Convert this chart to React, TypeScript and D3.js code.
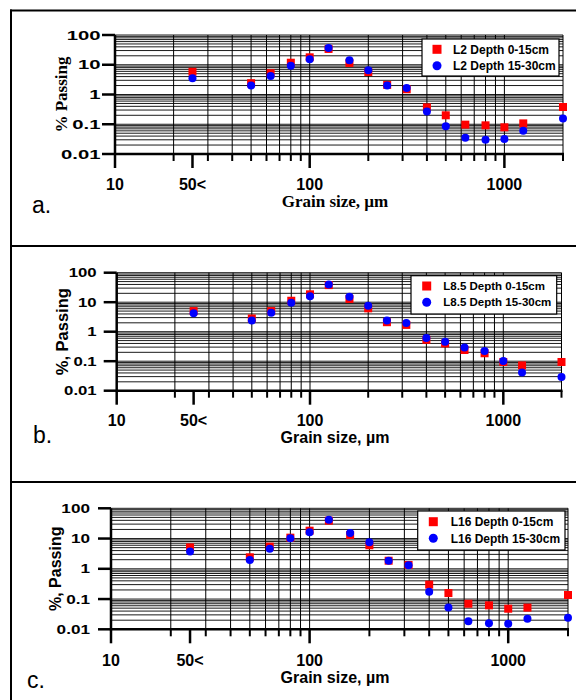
import React from "react";
import * as d3 from "d3";

// Grain sizes (µm); first class is the "<50" fraction plotted at 25
const sizes = [25, 50, 63, 80, 100, 125, 160, 200, 250, 315, 400, 500, 630, 800, 1000, 1250, 2000];

const L2_0_15 = [5.8, 2.4, 5.2, 11.7, 17.8, 34, 11.5, 5.7, 2.1, 1.5, 0.37, 0.2, 0.097, 0.092, 0.079, 0.107, 0.38];
const L2_15_30 = [3.5, 2.0, 4.2, 9.3, 15.2, 36.6, 14.1, 6.5, 2.0, 1.66, 0.27, 0.085, 0.035, 0.03, 0.032, 0.061, 0.155];

const L85_0_15 = [5.0, 2.8, 5.0, 11.2, 18.5, 38, 12.9, 6.2, 2.1, 1.7, 0.53, 0.4, 0.24, 0.186, 0.094, 0.072, 0.094];
const L85_15_30 = [4.2, 2.4, 4.4, 9.6, 15.8, 40, 15.3, 7.6, 2.4, 1.97, 0.61, 0.46, 0.29, 0.22, 0.102, 0.041, 0.029];

const L16_0_15 = [5.1, 2.4, 5.4, 10.7, 18.2, 39, 13.1, 6.0, 1.85, 1.34, 0.3, 0.158, 0.07, 0.062, 0.048, 0.052, 0.136];
const L16_15_30 = [3.7, 1.95, 4.6, 10.2, 16.1, 42, 15.3, 7.5, 1.85, 1.3, 0.175, 0.053, 0.0186, 0.0158, 0.0153, 0.0224, 0.024];

const seriesNames = [
  ["L2 Depth 0-15cm", "L2 Depth 15-30cm"],
  ["L8.5 Depth 0-15cm", "L8.5 Depth 15-30cm"],
  ["L16 Depth 0-15cm", "L16 Depth 15-30cm"],
];

const xMajorTicks = [10, 25, 100, 1000];
const xMajorLabels = ["10", "50<", "100", "1000"];
const xMinorTicks = [20, 30, 40, 50, 60, 70, 80, 90, 200, 300, 400, 500, 600, 700, 800, 900, 2000];
const xGrid = [20, 30, 40, 50, 60, 70, 80, 90, 100, 200, 300, 400, 500, 600, 700, 800, 900, 1000, 2000];
const yTicks = [100, 10, 1, 0.1, 0.01];
const yTickLabels = ["100", "10", "1", "0.1", "0.01"];
const yGrid: number[] = [];
[0.01, 0.1, 1, 10].forEach((d) => {
  for (let m = 1; m <= 9; m++) yGrid.push(+(d * m).toPrecision(3));
});
yGrid.push(100);

const SANS = "'Liberation Sans', Arial, sans-serif";
const SERIF = "'Liberation Serif', 'Times New Roman', serif";

const panels = [
  {
    data: [L2_0_15, L2_15_30], names: seriesNames[0],
    top: 35, bottom: 154, left: 115, right: 563,
    yLabEnd: 100.5, yFont: 13, yStretch: 1.56,
    yTitle: "% Passing", yTitleFont: SERIF, yTitleSize: 17, yTitleX: 67,
    xTitleFont: SERIF, xTitleSize: 17, xTitleY: 207, xTickY: 190,
    label: "a.", labelX: 32, labelY: 213,
    lg: { x: 422, y: 39, w: 137, h: 37, mx: 437, r1: 49.3, r2: 65.7, tx: 453, font: 12 },
  },
  {
    data: [L85_0_15, L85_15_30], names: seriesNames[1],
    top: 272.7, bottom: 390.7, left: 116.7, right: 561.5,
    yLabEnd: 96.7, yFont: 12, yStretch: 1.4,
    yTitle: "%, Passing", yTitleFont: SANS, yTitleSize: 16.5, yTitleX: 68,
    xTitleFont: SANS, xTitleSize: 16, xTitleY: 443, xTickY: 426,
    label: "b.", labelX: 33, labelY: 443,
    lg: { x: 411, y: 275.7, w: 145.7, h: 38.3, mx: 426.7, r1: 286, r2: 302.3, tx: 443.3, font: 11.5 },
  },
  {
    data: [L16_0_15, L16_15_30], names: seriesNames[2],
    top: 508.3, bottom: 629.3, left: 111, right: 568,
    yLabEnd: 90, yFont: 13, yStretch: 1.32,
    yTitle: "%, Passing", yTitleFont: SANS, yTitleSize: 16, yTitleX: 61,
    xTitleFont: SANS, xTitleSize: 16, xTitleY: 682.5, xTickY: 666,
    label: "c.", labelX: 27, labelY: 688,
    lg: { x: 417.7, y: 511, w: 147.3, h: 39, mx: 433.3, r1: 521.7, r2: 538.3, tx: 450.7, font: 12 },
  },
];

function Panel({ p }: { p: (typeof panels)[number] }) {
  const x = d3.scaleLog().domain([10, 2000]).range([p.left, p.right]);
  const y = d3.scaleLog().domain([0.01, 100]).range([p.bottom, p.top]);
  const sq = 8;
  const lsq = 9;
  return (
    <g>
      {yGrid.map((v, i) => (
        <line key={"hg" + i} x1={p.left} x2={p.right} y1={y(v)} y2={y(v)} stroke="#1a1a1a" strokeWidth={1} />
      ))}
      {xGrid.map((v, i) => (
        <line key={"vg" + i} x1={x(v)} x2={x(v)} y1={p.top} y2={p.bottom} stroke="#000" strokeWidth={1} />
      ))}
      <line x1={p.left} x2={p.right + 1} y1={p.bottom} y2={p.bottom} stroke="#000" strokeWidth={2.5} />
      <line x1={p.left} x2={p.left} y1={p.top} y2={p.bottom + 1} stroke="#000" strokeWidth={2.5} />
      {yTicks.map((v, i) => (
        <g key={"yt" + i}>
          <line x1={p.left - 13} x2={p.left} y1={y(v)} y2={y(v)} stroke="#000" strokeWidth={2.5} />
          <text
            transform={`translate(${p.yLabEnd},${y(v)}) scale(${p.yStretch},1)`}
            textAnchor="end"
            dy="0.36em"
            fontFamily={SANS}
            fontWeight="bold"
            fontSize={p.yFont}
          >
            {yTickLabels[i]}
          </text>
        </g>
      ))}
      {xMinorTicks.map((v, i) => (
        <line key={"xm" + i} x1={x(v)} x2={x(v)} y1={p.bottom} y2={p.bottom + 7} stroke="#000" strokeWidth={2} />
      ))}
      {xMajorTicks.map((v, i) => (
        <g key={"xM" + i}>
          <line x1={x(v)} x2={x(v)} y1={p.bottom} y2={p.bottom + 14} stroke="#000" strokeWidth={2.5} />
          <text x={x(v)} y={p.xTickY} textAnchor="middle" fontFamily={SANS} fontWeight="bold" fontSize={16}>
            {xMajorLabels[i]}
          </text>
        </g>
      ))}
      <text
        transform={`translate(${p.yTitleX},${(p.top + p.bottom) / 2}) rotate(-90)`}
        textAnchor="middle"
        fontFamily={p.yTitleFont}
        fontWeight="bold"
        fontSize={p.yTitleSize}
      >
        {p.yTitle}
      </text>
      <text x={335} y={p.xTitleY} textAnchor="middle" fontFamily={p.xTitleFont} fontWeight="bold" fontSize={p.xTitleSize}>
        Grain size, µm
      </text>
      <text x={p.labelX} y={p.labelY} fontFamily={SANS} fontSize={23}>
        {p.label}
      </text>
      {p.data[0].map((v, i) => (
        <rect key={"r" + i} x={x(sizes[i]) - sq / 2} y={y(v) - sq / 2} width={sq} height={sq} fill="#ff0000" />
      ))}
      {p.data[1].map((v, i) => (
        <circle key={"c" + i} cx={x(sizes[i])} cy={y(v)} r={4} fill="#0000ff" />
      ))}
      <rect x={p.lg.x} y={p.lg.y} width={p.lg.w} height={p.lg.h} fill="#fff" stroke="#000" strokeWidth={1.2} />
      <rect x={p.lg.mx - lsq / 2} y={p.lg.r1 - lsq / 2} width={lsq} height={lsq} fill="#ff0000" />
      <circle cx={p.lg.mx} cy={p.lg.r2} r={lsq / 2} fill="#0000ff" />
      <text x={p.lg.tx} y={p.lg.r1} dy="0.36em" fontFamily={SANS} fontWeight="bold" fontSize={p.lg.font}>
        {p.names[0]}
      </text>
      <text x={p.lg.tx} y={p.lg.r2} dy="0.36em" fontFamily={SANS} fontWeight="bold" fontSize={p.lg.font}>
        {p.names[1]}
      </text>
    </g>
  );
}

export default function App() {
  return (
    <svg
      width={576}
      height={700}
      style={{ position: "absolute", left: 0, top: 0, background: "#fff" }}
    >
      <rect x={0} y={0} width={576} height={700} fill="#fff" />
      <line x1={11} x2={11} y1={9.5} y2={700} stroke="#000" strokeWidth={2} />
      <line x1={10} x2={576} y1={10.5} y2={10.5} stroke="#000" strokeWidth={2} />
      <line x1={10} x2={576} y1={246} y2={246} stroke="#000" strokeWidth={2} />
      <line x1={10} x2={576} y1={482} y2={482} stroke="#000" strokeWidth={2} />
      {panels.map((p, i) => (
        <Panel key={i} p={p} />
      ))}
    </svg>
  );
}
